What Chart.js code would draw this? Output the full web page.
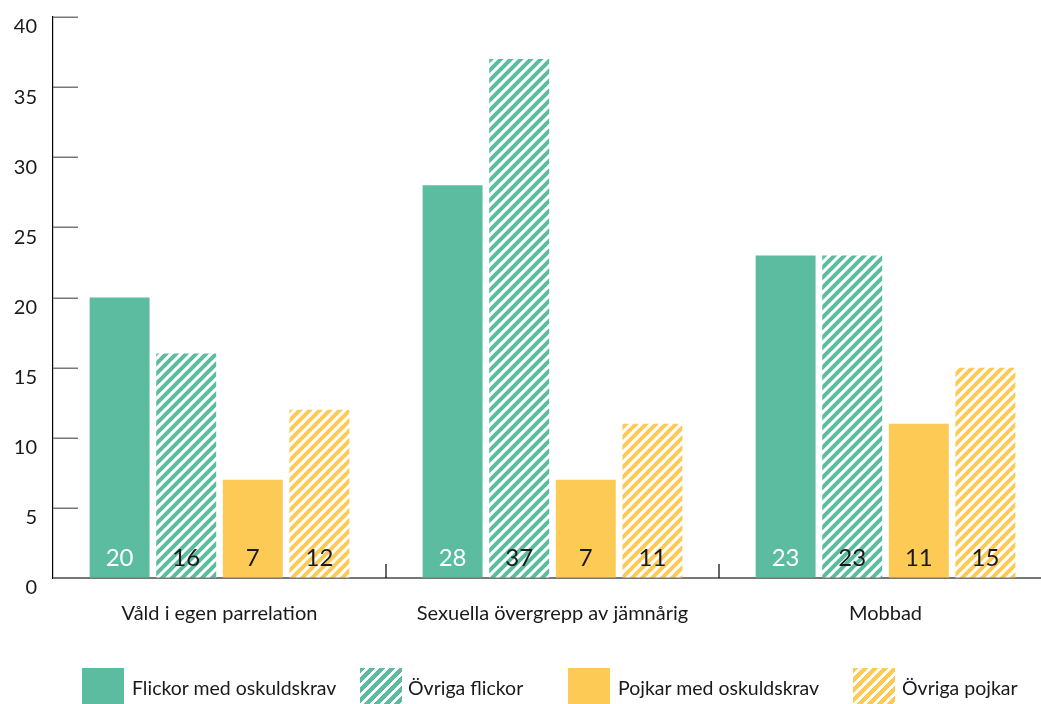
<!DOCTYPE html>
<html>
<head>
<meta charset="utf-8">
<script src="https://cdn.jsdelivr.net/npm/chart.js@4/dist/chart.umd.min.js"></script>
<style>
  html, body { margin: 0; padding: 0; background: #fff; overflow: hidden; width: 1041px; height: 704px; }
  #wrap { position: absolute; left: 0; top: 0; width: 1052px; height: 704px; }
  .legend-item { position: absolute; top: 668px; height: 36px; }
  .swatch { position: absolute; top: 0; width: 42px; height: 36px; }
  .legend-text {
    position: absolute; top: 8px; white-space: nowrap;
    font: 19.5px Lato, sans-serif; color: #1a1a1a;
  }
</style>
</head>
<body>
<div id="wrap"><canvas id="chart"></canvas></div>
<div id="legend"></div>

<script>
  'use strict';

  /**
   * Data
   */
  const categories = ['Våld i egen parrelation', 'Sexuella övergrepp av jämnårig', 'Mobbad'];
  const seriesNames = ['Flickor med oskuldskrav', 'Övriga flickor', 'Pojkar med oskuldskrav', 'Övriga pojkar'];
  const girlsDemand = [20, 28, 23];
  const girlsOther = [16, 37, 23];
  const boysDemand = [7, 7, 11];
  const boysOther = [12, 11, 15];
  const yTicks = [0, 5, 10, 15, 20, 25, 30, 35, 40];

  /**
   * Colours
   */
  const GREEN = '#5bbc9f';
  const YELLOW = '#fdca56';
  const TEXT = '#1a1a1a';

  /**
   * Diagonal "/" stripes pattern
   */
  function makeHatch(color) {
    const size = 10;
    const c = document.createElement('canvas');
    c.width = size;
    c.height = size;
    const g = c.getContext('2d');
    g.fillStyle = '#fff';
    g.fillRect(0, 0, size, size);
    g.strokeStyle = color;
    g.lineWidth = 4;
    g.lineCap = 'square';
    g.beginPath();
    g.moveTo(-2, size + 2); g.lineTo(size + 2, -2);
    g.moveTo(-size / 2 - 2, size / 2 + 2); g.lineTo(size / 2 + 2, -size / 2 - 2);
    g.moveTo(size / 2 - 2, size * 1.5 + 2); g.lineTo(size * 1.5 + 2, size / 2 - 2);
    g.stroke();
    return document.createElement('canvas').getContext('2d').createPattern(c, 'repeat');
  }

  const greenHatch = makeHatch(GREEN);
  const yellowHatch = makeHatch(YELLOW);

  /**
   * Inward tick marks on both axes
   */
  const innerTicks = {
    id: 'innerTicks',
    afterDraw(chart) {
      const { ctx, chartArea, scales } = chart;
      ctx.save();
      // y ticks: short gray lines to the right of the axis
      ctx.strokeStyle = '#777';
      ctx.lineWidth = 1.5;
      yTicks.forEach((v) => {
        const y = Math.round(scales.y.getPixelForValue(v)) + 0.25;
        ctx.beginPath();
        ctx.moveTo(chartArea.left, y);
        ctx.lineTo(chartArea.left + 25, y);
        ctx.stroke();
      });
      // category separators: short black lines up from the baseline
      ctx.strokeStyle = '#000';
      ctx.lineWidth = 1.2;
      for (let i = 1; i < categories.length; i++) {
        const x = (scales.x.getPixelForValue(i - 1) + scales.x.getPixelForValue(i)) / 2;
        ctx.beginPath();
        ctx.moveTo(x, chartArea.bottom);
        ctx.lineTo(x, chartArea.bottom - 14);
        ctx.stroke();
      }
      ctx.restore();
    },
  };

  /**
   * Value labels at the bottom of each bar
   */
  const valueLabels = {
    id: 'valueLabels',
    afterDatasetsDraw(chart) {
      const { ctx, scales } = chart;
      const base = scales.y.getPixelForValue(0);
      ctx.save();
      ctx.font = '24px Lato, sans-serif';
      ctx.textAlign = 'center';
      ctx.textBaseline = 'middle';
      chart.data.datasets.forEach((ds, di) => {
        const meta = chart.getDatasetMeta(di);
        meta.data.forEach((bar, i) => {
          ctx.fillStyle = di === 0 ? '#fff' : TEXT;
          ctx.fillText(String(ds.data[i]), bar.x, base - 20);
        });
      });
      ctx.restore();
    },
  };

  const ctx = document.getElementById('chart').getContext('2d');

  new Chart(ctx, {
    type: 'bar',
    data: {
      labels: categories,
      datasets: [
        { label: seriesNames[0], data: girlsDemand, backgroundColor: GREEN },
        { label: seriesNames[1], data: girlsOther, backgroundColor: greenHatch },
        { label: seriesNames[2], data: boysDemand, backgroundColor: YELLOW },
        { label: seriesNames[3], data: boysOther, backgroundColor: yellowHatch },
      ],
    },
    options: {
      responsive: true,
      maintainAspectRatio: false,
      animation: false,
      categoryPercentage: 0.8,
      barPercentage: 0.9,
      layout: { padding: { top: 17, right: 0, bottom: 0, left: 0 } },
      scales: {
        x: {
          grid: { display: false, drawTicks: false },
          border: { display: true, color: '#777', width: 2 },
          ticks: {
            color: TEXT,
            font: { family: 'Lato, sans-serif', size: 20 },
            padding: 24,
            maxRotation: 0,
          },
          afterFit(scale) {
            scale.height = 126;
            scale.paddingLeft = 0;
            scale.paddingRight = 0;
          },
        },
        y: {
          min: 0,
          max: 40,
          grid: { display: true, drawOnChartArea: false, drawTicks: false },
          border: { display: true, color: '#000', width: 1.2 },
          ticks: {
            stepSize: 5,
            color: TEXT,
            font: { family: 'Lato, sans-serif', size: 20 },
            padding: 16,
            labelOffset: 10,
          },
          afterFit(scale) {
            scale.width = 53;
            scale.paddingTop = 0;
            scale.paddingBottom = 0;
          },
        },
      },
      plugins: {
        legend: { display: false },
        tooltip: { enabled: false },
      },
    },
    plugins: [innerTicks, valueLabels],
  });

  /**
   * HTML legend
   */
  const legendPos = [
    { box: 82, text: 132 },
    { box: 360, text: 408 },
    { box: 568, text: 618 },
    { box: 853, text: 902 },
  ];
  const swatchFill = [
    GREEN,
    `repeating-linear-gradient(135deg, ${GREEN} 0 4px, #fff 4px 7.07px)`,
    YELLOW,
    `repeating-linear-gradient(135deg, ${YELLOW} 0 4px, #fff 4px 7.07px)`,
  ];
  const legend = document.getElementById('legend');
  seriesNames.forEach((name, i) => {
    const item = document.createElement('div');
    item.className = 'legend-item';
    item.style.left = '0px';
    item.innerHTML =
      `<div class="swatch" style="left:${legendPos[i].box}px;background:${swatchFill[i]}"></div>` +
      `<div class="legend-text" style="left:${legendPos[i].text}px">${name}</div>`;
    legend.appendChild(item);
  });
</script>
</body>
</html>
